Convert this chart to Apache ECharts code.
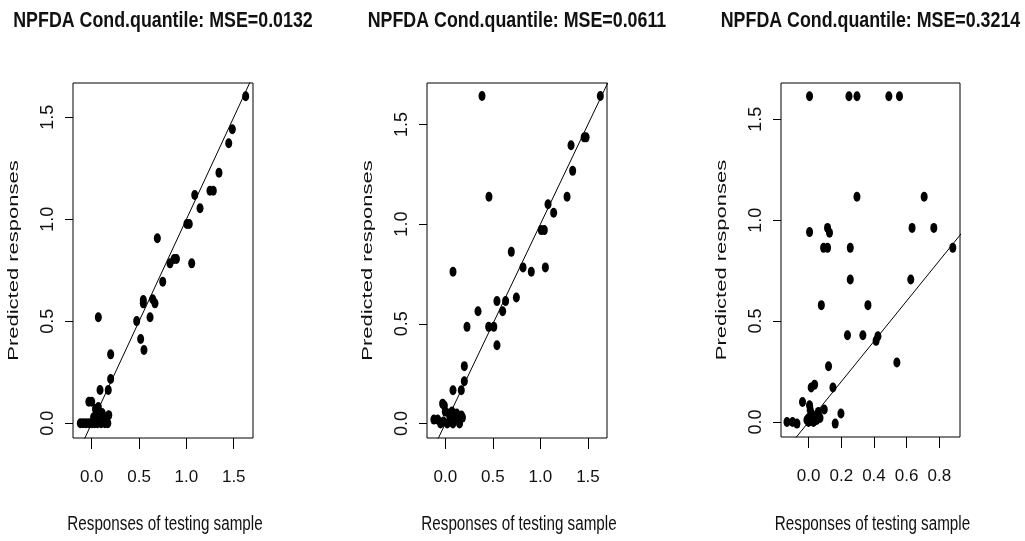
<!DOCTYPE html>
<html>
<head>
<meta charset="utf-8">
<title>NPFDA Cond.quantile</title>
<script src="https://cdn.jsdelivr.net/npm/echarts@6/dist/echarts.min.js"></script>
<style>
  html, body { margin: 0; padding: 0; background: #ffffff; }
  #chart { width: 1025px; height: 541px; }
</style>
</head>
<body>
<div id="chart"></div>
<script>
// Panel titles and axis titles
const panelTitles = [
  'NPFDA Cond.quantile: MSE=0.0132',
  'NPFDA Cond.quantile: MSE=0.0611',
  'NPFDA Cond.quantile: MSE=0.3214'
];
const xAxisTitle = 'Responses of testing sample';
const yAxisTitle = 'Predicted responses';

// Panel 1: observed responses vs predicted responses
const obs1 = [1.626, 1.485, 1.447, 1.344, 1.249, 1.284, 1.088, 1.144, 1.005, 1.030,
  0.693, 0.870, 0.895, 0.827, 1.056, 0.750, 0.545, 0.545, 0.644, 0.668,
  0.616, 0.475, 0.070, 0.517, 0.552, 0.200, 0.200, 0.088, 0.175, -0.030, 0.000,
  -0.120, -0.090, -0.060, -0.030, 0.000, 0.030, 0.060, 0.100, 0.140, 0.170,
  0.020, 0.050, 0.080, 0.110, 0.140, 0.180, 0.040, 0.070];
const pred1 = [1.603, 1.441, 1.373, 1.228, 1.140, 1.140, 1.119, 1.054, 0.977, 0.977,
  0.907, 0.805, 0.805, 0.784, 0.784, 0.694, 0.604, 0.588, 0.608, 0.588,
  0.520, 0.501, 0.520, 0.413, 0.359, 0.338, 0.217, 0.163, 0.163, 0.106, 0.106,
  0.000, 0.000, 0.000, 0.000, 0.000, 0.000, 0.000, 0.000, 0.000, 0.000,
  0.030, 0.040, 0.020, 0.050, 0.030, 0.040, 0.070, 0.080];

// Panel 2
const obs2 = [0.386, 1.630, 1.460, 1.480, 1.322, 1.339, 1.280, 0.459, 1.080, 1.139,
  1.009, 1.041, 0.694, 0.081, 0.817, 0.904, 1.052, 0.747, 0.543, 0.634,
  0.603, 0.344, 0.228, 0.456, 0.510, 0.543, 0.200, 0.200, 0.081, 0.168, -0.028,
  -0.120, -0.080, -0.050, -0.020, 0.020, 0.050, 0.080, 0.110, 0.150, 0.180,
  0.000, 0.040, 0.070, 0.120, -0.010, 0.170];
const pred2 = [1.642, 1.642, 1.435, 1.435, 1.395, 1.267, 1.137, 1.137, 1.100, 1.057,
  0.970, 0.970, 0.861, 0.761, 0.783, 0.761, 0.783, 0.632, 0.614, 0.614,
  0.563, 0.563, 0.485, 0.485, 0.485, 0.393, 0.288, 0.212, 0.167, 0.167, 0.100,
  0.020, 0.020, 0.000, 0.010, 0.000, 0.030, 0.000, 0.020, 0.000, 0.030,
  0.060, 0.050, 0.060, 0.050, 0.090, 0.040];

// Panel 3
const obs3 = [0.006, 0.247, 0.296, 0.491, 0.556, 0.296, 0.707, 0.006, 0.116, 0.128,
  0.633, 0.766, 0.092, 0.116, 0.255, 0.882, 0.255, 0.625, 0.078, 0.363,
  0.238, 0.332, 0.413, 0.424, 0.540, 0.122, 0.016, 0.037, 0.149, -0.037,
  0.006, 0.096, 0.198, 0.163, -0.132, -0.098, -0.071,
  0.000, 0.020, 0.040, 0.060, 0.030, 0.050, 0.070, -0.010, 0.010, 0.000];
const pred3 = [1.614, 1.614, 1.614, 1.614, 1.614, 1.116, 1.116, 0.941, 0.962, 0.938,
  0.962, 0.962, 0.863, 0.863, 0.863, 0.863, 0.706, 0.706, 0.579, 0.579,
  0.430, 0.430, 0.402, 0.425, 0.295, 0.276, 0.171, 0.185, 0.171, 0.099,
  0.083, 0.062, 0.042, -0.008, 0.000, 0.000, -0.008,
  0.020, 0.040, 0.030, 0.050, 0.000, 0.010, 0.020, 0.010, 0.060, 0.000];

// Tick values
const xTicksWide = [0, 0.5, 1.0, 1.5];
const xTicksNarrow = [0, 0.2, 0.4, 0.6, 0.8];
const yTicks = [0, 0.5, 1.0, 1.5];

// Identity reference line y = x
const identityLine = [[-1, -1], [3, 3]];

const observed = [obs1, obs2, obs3];
const predicted = [pred1, pred2, pred3];
const xTickSets = [xTicksWide, xTicksWide, xTicksNarrow];

// Plot regions and axis extents for the three panels
const panels = [
  { grid: { left: 73,  top: 83, width: 180, height: 355 }, x: [-0.1975, 1.7033], y: [-0.072, 1.668] },
  { grid: { left: 427, top: 83, width: 180, height: 355 }, x: [-0.1924, 1.700],  y: [-0.0723, 1.7075] },
  { grid: { left: 781, top: 83, width: 179, height: 354 }, x: [-0.1686, 0.926],  y: [-0.0744, 1.680] }
];

const plainFont = "'Liberation Sans', Arial, Helvetica, sans-serif";
const ink = '#111111';
const fmt = v => Number(v).toFixed(1);

// Condensed-looking text: a regular face squeezed across its width
function squeezedText(text, x, y, size, weight, sx, sy, rotation) {
  return {
    type: 'text',
    x: x,
    y: y,
    rotation: rotation || 0,
    scaleX: sx,
    scaleY: sy,
    silent: true,
    style: {
      text: text,
      fontFamily: plainFont,
      fontSize: size,
      fontWeight: weight,
      fill: ink,
      align: 'center',
      verticalAlign: 'middle'
    }
  };
}

const graphics = [];
panels.forEach((p, i) => {
  const cx = p.grid.left + p.grid.width / 2;
  const cy = p.grid.top + p.grid.height / 2;
  graphics.push(squeezedText(panelTitles[i], cx, 21, 22, 'bold', 0.81, 1));
  graphics.push(squeezedText(xAxisTitle, cx + 2, 525, 19.5, 'normal', 0.78, 1));
  graphics.push(squeezedText(yAxisTitle, p.grid.left - 59, cy, 22, 'normal', 1, 0.68, Math.PI / 2));
});

const option = {
  backgroundColor: '#ffffff',
  animation: false,
  graphic: graphics,
  grid: panels.map(p => Object.assign({ show: true, borderColor: '#000', borderWidth: 1, backgroundColor: '#fff', containLabel: false }, p.grid)),
  xAxis: panels.map((p, i) => ({
    type: 'value',
    gridIndex: i,
    min: p.x[0],
    max: p.x[1],
    splitLine: { show: false },
    axisLine: { show: false, onZero: false },
    axisTick: { show: true, length: 11, inside: false, customValues: xTickSets[i], lineStyle: { color: '#000', width: 1 } },
    axisLabel: { show: true, margin: 31, customValues: xTickSets[i], formatter: fmt, fontFamily: plainFont, fontSize: 17, color: ink, hideOverlap: false }
  })),
  yAxis: panels.map((p, i) => ({
    type: 'value',
    gridIndex: i,
    min: p.y[0],
    max: p.y[1],
    splitLine: { show: false },
    axisLine: { show: false, onZero: false },
    axisTick: { show: true, length: 8, inside: false, customValues: yTicks, lineStyle: { color: '#000', width: 1 } },
    axisLabel: { show: true, rotate: 90, margin: 16, customValues: yTicks, formatter: fmt, fontFamily: plainFont, fontSize: 18, color: ink, hideOverlap: false }
  })),
  series: []
};

panels.forEach((p, i) => {
  option.series.push({
    type: 'line',
    xAxisIndex: i,
    yAxisIndex: i,
    data: identityLine,
    clip: true,
    symbol: 'none',
    silent: true,
    lineStyle: { color: '#000', width: 1 }
  });
  option.series.push({
    type: 'scatter',
    xAxisIndex: i,
    yAxisIndex: i,
    data: observed[i].map((v, k) => [v, predicted[i][k]]),
    symbol: 'circle',
    symbolSize: [7, 10],
    clip: false,
    itemStyle: { color: '#000', opacity: 1 }
  });
});

const chart = echarts.init(document.getElementById('chart'), null, { renderer: 'canvas' });
chart.setOption(option);
</script>
</body>
</html>
